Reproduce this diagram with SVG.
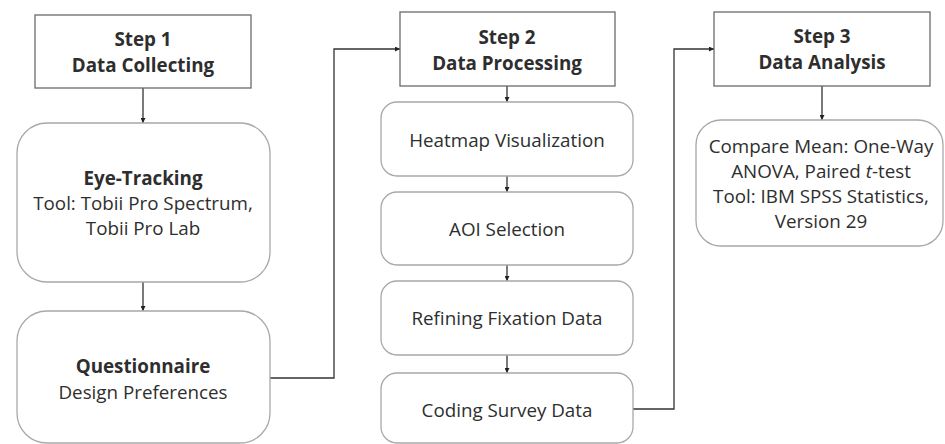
<svg xmlns="http://www.w3.org/2000/svg" width="945" height="444" viewBox="0 0 945 444">
<defs>
<style>
text{font-family:"Open Sans","Liberation Sans",sans-serif;fill:#2e2e2e;text-anchor:middle}
.b{font-weight:bold;font-size:18.8px}
.r{font-size:18.8px}
.step{fill:#fff;stroke:#6a6a6a;stroke-width:1.3}
.rnd{fill:#fff;stroke:#a8a8a8;stroke-width:1.3}
.con{fill:none;stroke:#333;stroke-width:1.3}
</style>
<marker id="ah" viewBox="0 0 8 8" refX="8" refY="4" markerWidth="5" markerHeight="5" orient="auto" markerUnits="userSpaceOnUse">
<path d="M0,0L8,4L0,8z" fill="#222"/>
</marker>
</defs>
<rect width="945" height="444" fill="#fff"/>
<g id="connectors">
<path class="con" d="M143,88V123" marker-end="url(#ah)"/>
<path class="con" d="M143,282V311" marker-end="url(#ah)"/>
<path class="con" d="M270,378H334V49H400" marker-end="url(#ah)"/>
<path class="con" d="M507,86V102" marker-end="url(#ah)"/>
<path class="con" d="M507,176V192" marker-end="url(#ah)"/>
<path class="con" d="M507,265V281" marker-end="url(#ah)"/>
<path class="con" d="M507,355V373" marker-end="url(#ah)"/>
<path class="con" d="M633,409H674V49H714" marker-end="url(#ah)"/>
<path class="con" d="M822,86V120" marker-end="url(#ah)"/>
</g>
<g id="step1">
<rect class="step" x="35" y="15" width="216" height="73"/>
<text class="b" x="143" y="46">Step 1</text>
<text class="b" x="143" y="72">Data Collecting</text>
</g>
<g id="eyetracking">
<rect class="rnd" x="17" y="123" width="253" height="159" rx="30"/>
<text class="b" x="143" y="185">Eye-Tracking</text>
<text class="r" x="143" y="210">Tool: Tobii Pro Spectrum,</text>
<text class="r" x="143" y="235">Tobii Pro Lab</text>
</g>
<g id="questionnaire">
<rect class="rnd" x="17" y="311" width="253" height="132" rx="30"/>
<text class="b" x="143" y="373">Questionnaire</text>
<text class="r" x="143" y="399">Design Preferences</text>
</g>
<g id="step2">
<rect class="step" x="400" y="12" width="215" height="74"/>
<text class="b" x="507" y="44">Step 2</text>
<text class="b" x="507" y="70">Data Processing</text>
</g>
<g id="heatmap">
<rect class="rnd" x="381" y="102" width="252" height="74" rx="16"/>
<text class="r" x="507" y="147">Heatmap Visualization</text>
</g>
<g id="aoi">
<rect class="rnd" x="381" y="192" width="252" height="73" rx="16"/>
<text class="r" x="507" y="236">AOI Selection</text>
</g>
<g id="refining">
<rect class="rnd" x="381" y="281" width="252" height="74" rx="16"/>
<text class="r" x="507" y="325">Refining Fixation Data</text>
</g>
<g id="coding">
<rect class="rnd" x="381" y="373" width="252" height="70" rx="16"/>
<text class="r" x="507" y="417">Coding Survey Data</text>
</g>
<g id="step3">
<rect class="step" x="714" y="12" width="216" height="74"/>
<text class="b" x="822" y="43">Step 3</text>
<text class="b" x="822" y="69">Data Analysis</text>
</g>
<g id="analysis">
<rect class="rnd" x="696" y="120" width="247" height="126" rx="25"/>
<text class="r" x="821" y="153">Compare Mean: One-Way</text>
<text class="r" x="821" y="178">ANOVA, Paired <tspan font-style="italic">t</tspan>-test</text>
<text class="r" x="821" y="203">Tool: IBM SPSS Statistics,</text>
<text class="r" x="821" y="228">Version 29</text>
</g>
</svg>
